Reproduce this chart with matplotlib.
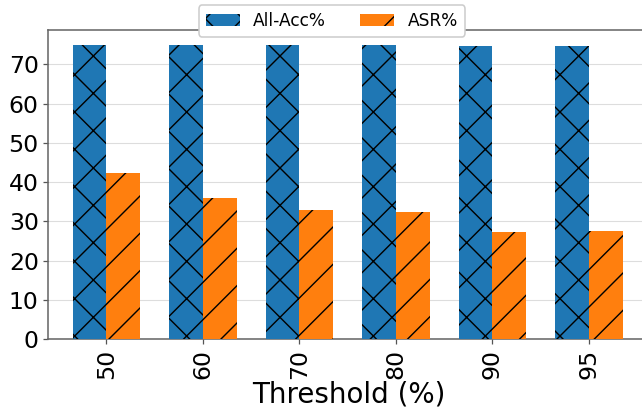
import numpy as np
import matplotlib.pyplot as plt

# data
thresholds = ['50', '60', '70', '80', '90', '95']
all_acc = [75.0, 74.9, 74.8, 74.8, 74.7, 74.6]
asr = [42.2, 35.9, 33.0, 32.3, 27.2, 27.5]

# hatch spacing is tied to dpi, 112.5 gives the same spacing as the reference
dpi = 112.5
fig = plt.figure(figsize=(642 / dpi, 417 / dpi), dpi=dpi)
plt.rcParams['hatch.linewidth'] = 0.9

ax = fig.add_axes([48 / 642, 78 / 417, 602 / 642, 309 / 417])

x = np.arange(len(thresholds))
w = 0.35
ax.bar(x - w / 2, all_acc, w, color='#1f77b4', hatch='x', edgecolor='black',
       linewidth=0, label='All-Acc%', zorder=3)
ax.bar(x + w / 2, asr, w, color='#ff7f0e', hatch='/', edgecolor='black',
       linewidth=0, label='ASR%', zorder=3)

ax.set_xlim(-0.605, 5.633)
ax.set_xticks(x)
ax.set_xticklabels(thresholds, rotation=90, fontsize=15.1)
ax.tick_params(axis='y', labelsize=15.1, width=0.8, length=3.2, pad=2.7, color='#555555')
ax.tick_params(axis='x', width=0.8, length=2.9, pad=3.3, color='#555555')
ax.set_yticks(range(0, 80, 10))
ax.set_xlabel('Threshold (%)', fontsize=17.8, labelpad=1.3)
ax.grid(axis='y', color='#dddddd', linewidth=0.7, zorder=0)

for s in ax.spines.values():
    s.set_color('#666666')
    s.set_linewidth(1.0)

fig.legend(loc='upper center', bbox_to_anchor=(332 / 642, 1.008), ncol=2,
           fontsize=10.9, framealpha=1, edgecolor='#cccccc', fancybox=True)

fig.savefig('out.png', dpi=dpi)
